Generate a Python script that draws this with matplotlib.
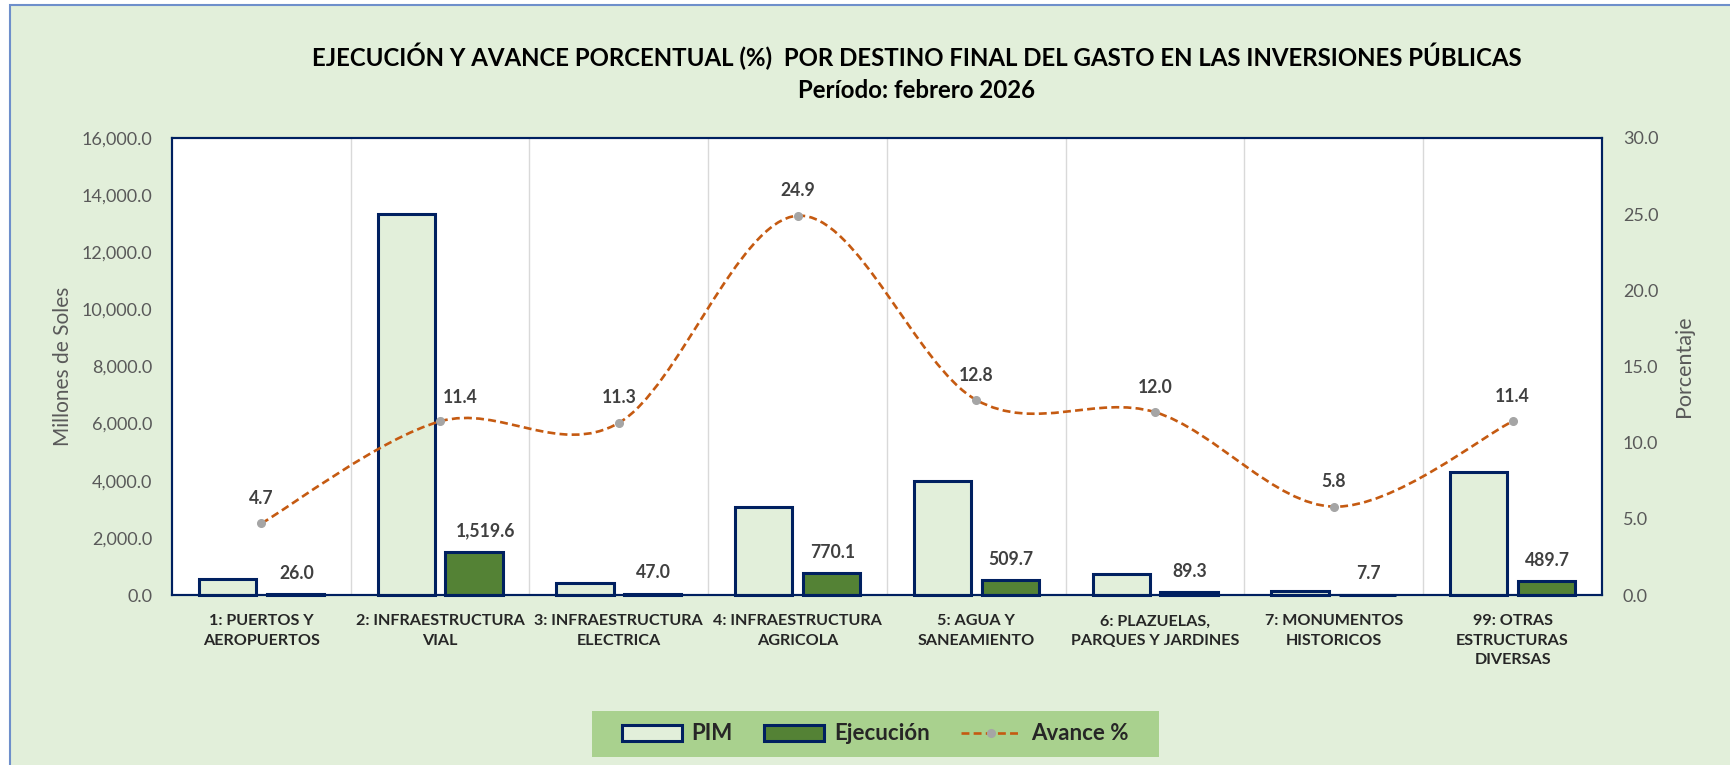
import numpy as np
import matplotlib
matplotlib.use("Agg")
import matplotlib.pyplot as plt
from matplotlib.path import Path
from matplotlib.patches import PathPatch, Patch, Rectangle
from matplotlib.lines import Line2D

plt.rcParams['font.family'] = ['Lato', 'DejaVu Sans']

# data
categorias = ["1: PUERTOS Y\nAEROPUERTOS", "2: INFRAESTRUCTURA\nVIAL",
              "3: INFRAESTRUCTURA\nELECTRICA", "4: INFRAESTRUCTURA\nAGRICOLA",
              "5: AGUA Y\nSANEAMIENTO", "6: PLAZUELAS,\nPARQUES Y JARDINES",
              "7: MONUMENTOS\nHISTORICOS", "99: OTRAS\nESTRUCTURAS\nDIVERSAS"]
pim = [553, 13330, 416, 3093, 3982, 744, 140, 4296]
ejecucion = [26.0, 1519.6, 47.0, 770.1, 509.7, 89.3, 7.7, 489.7]
avance = [4.7, 11.4, 11.3, 24.9, 12.8, 12.0, 5.8, 11.4]

navy = '#002060'
verde_claro = '#E2EFDA'
verde = '#548235'
naranja = '#C55A11'
gris = '#595959'

W, H = 1731, 765
fig = plt.figure(figsize=(W / 100, H / 100), dpi=100)
fig.patch.set_facecolor('white')
fig.patches.append(Rectangle((10 / W, -0.05), 1.1, 1 - 5 / H + 0.05, transform=fig.transFigure,
                             facecolor=verde_claro, edgecolor='#6E8FCB', lw=1.5, zorder=-3))

ax = fig.add_axes([172 / W, 1 - 595 / H, 1430 / W, 457 / H])
ax.set_facecolor('white')
x = np.arange(len(categorias))
w = 0.32
ax.bar(x - 0.19, pim, w, color=verde_claro, edgecolor=navy, lw=2.2, zorder=3, clip_on=False)
b2 = ax.bar(x + 0.19, ejecucion, w, color=verde, edgecolor=navy, lw=2.2, zorder=3, clip_on=False)
for i, (r, v) in enumerate(zip(b2, ejecucion)):
    dx = 11 if i == 1 else 1
    ax.annotate(f"{v:,.1f}", (r.get_x() + r.get_width() / 2, r.get_height()),
                xytext=(dx, 21), textcoords='offset pixels', ha='center', va='center',
                fontsize=12.7, fontweight='bold', color='#404040')

ax.set_xlim(-0.5, len(categorias) - 0.5)
ax.set_ylim(0, 16000)
ax.set_yticks(np.arange(0, 16001, 2000))
ax.set_yticklabels([f"{t:,.1f}" for t in np.arange(0, 16001, 2000)])
ax.set_xticks(x)
ax.set_xticklabels(categorias, fontsize=11.6, fontweight='bold', color='#262626', linespacing=1.5)
ax.set_xticks(np.arange(0.5, len(categorias) - 1, 1), minor=True)
ax.grid(which='minor', axis='x', color='#D9D9D9', lw=1)
ax.tick_params(axis='x', which='both', length=0, pad=14)
ax.tick_params(axis='y', length=0, pad=14, labelsize=13, labelcolor=gris)
ax.set_ylabel("Millones de Soles", fontsize=15, color=gris)
ax.yaxis.set_label_coords(-0.069, 0.5)
for s in ax.spines.values():
    s.set_color(navy)
    s.set_linewidth(1.5)

ax2 = ax.twinx()
ax2.set_ylim(0, 30)
ax2.set_yticks(np.arange(0, 31, 5))
ax2.set_yticklabels([f"{t:.1f}" for t in np.arange(0, 31, 5)])
ax2.tick_params(axis='y', length=0, pad=15, labelsize=13, labelcolor=gris)
ax2.set_ylabel("Porcentaje", fontsize=15.5, color=gris)
ax2.yaxis.set_label_coords(1.0503, 0.5)
for s in ax2.spines.values():
    s.set_color(navy)
    s.set_linewidth(1.5)

# smoothed line like the spreadsheet one (bezier through the points)
pts = np.column_stack([x, avance]).astype(float)
n = len(pts)
verts = [tuple(pts[0])]
codes = [Path.MOVETO]
for i in range(n - 1):
    p0, p1 = pts[max(i - 1, 0)], pts[i]
    p2, p3 = pts[i + 1], pts[min(i + 2, n - 1)]
    verts += [tuple(p1 + (p2 - p0) / 6), tuple(p2 - (p3 - p1) / 6), tuple(p2)]
    codes += [Path.CURVE4] * 3
ax2.add_patch(PathPatch(Path(verts, codes), fill=False, edgecolor=naranja, lw=1.9,
                        linestyle=(0, (3, 1.6)), zorder=4))
ax2.plot(x, avance, ls='none', marker='o', ms=5.5, color='#A5A5A5', zorder=5)
for i, v in enumerate(avance):
    if i == 1:
        ax2.annotate(f"{v:.1f}", (i, v), xytext=(20, 24), textcoords='offset pixels',
                     ha='center', va='center', fontsize=12.7, fontweight='bold', color='#404040',
                     arrowprops=dict(arrowstyle='-', color='#A5A5A5', lw=1, shrinkA=9, shrinkB=3))
    else:
        ax2.annotate(f"{v:.1f}", (i, v), xytext=(0, 25), textcoords='offset pixels',
                     ha='center', va='center', fontsize=12.7, fontweight='bold', color='#404040')

fig.text(917 / W, 1 - 56 / H, "EJECUCIÓN Y AVANCE PORCENTUAL (%)  POR DESTINO FINAL DEL GASTO EN LAS INVERSIONES PÚBLICAS",
         ha='center', va='center', fontsize=17.3, fontweight='bold', color='black')
fig.text(917 / W, 1 - 90 / H, "Período: febrero 2026", ha='center', va='center',
         fontsize=17.3, fontweight='bold', color='black')

# legend
fig.patches.append(Rectangle((592 / W, 1 - 757 / H), 567 / W, 46 / H, transform=fig.transFigure,
                             facecolor='#A9D18E', edgecolor='none', zorder=-2))
handles = [Patch(facecolor=verde_claro, edgecolor=navy, lw=2.2),
           Patch(facecolor=verde, edgecolor=navy, lw=2.2),
           Line2D([], [], color=naranja, lw=1.9, ls=(0, (3, 1.6)), marker='o', ms=5.5,
                  markerfacecolor='#A5A5A5', markeredgecolor='#A5A5A5')]
leg = fig.legend(handles, ["PIM", "Ejecución", "Avance %"], loc='center',
                 bbox_to_anchor=(875 / W, 1 - 734 / H), ncol=3, frameon=False,
                 handlelength=2.7, handleheight=0.75, handletextpad=0.45, columnspacing=1.4,
                 prop={'size': 16, 'weight': 'bold'})
for t in leg.get_texts():
    t.set_color('#262626')

fig.savefig("out.png", dpi=100, facecolor=fig.get_facecolor())
